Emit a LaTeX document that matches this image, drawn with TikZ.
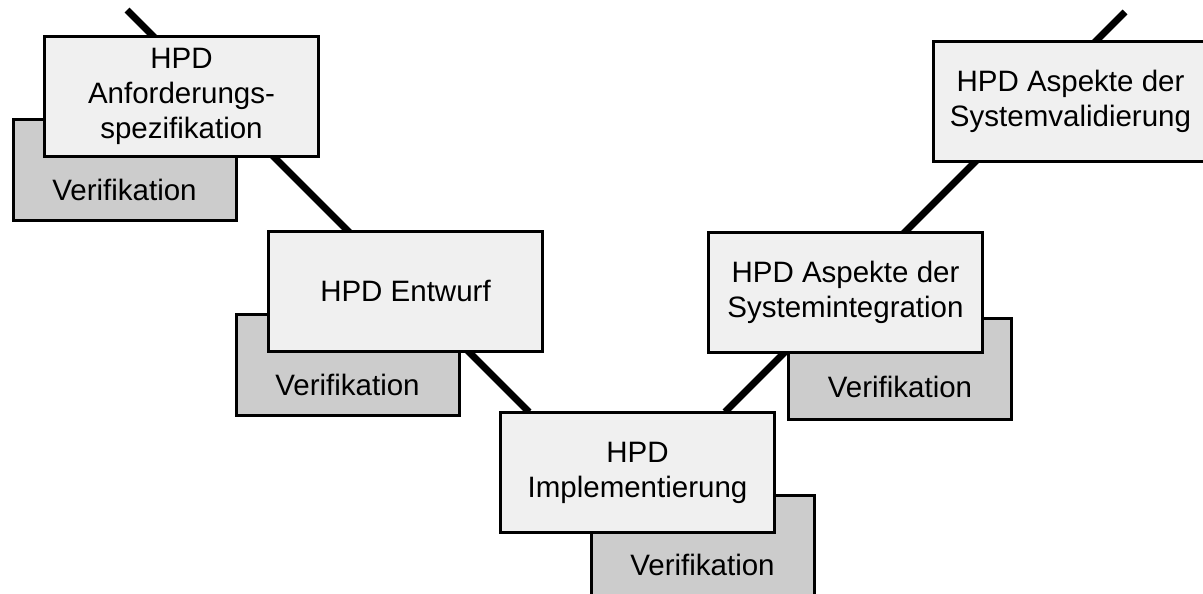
\documentclass[tikz,border=0pt]{standalone}
\usepackage{fontspec}
\setmainfont{Liberation Sans}
\definecolor{frontfill}{HTML}{F0F0F0}
\definecolor{verifill}{HTML}{CCCCCC}
\begin{document}
\begin{tikzpicture}[x=1pt,y=-1pt,
  every node/.style={font=\fontsize{29.5}{35}\selectfont},
  phase/.style={draw=black, line width=3pt, fill=frontfill, rectangle,
    minimum width=274pt, minimum height=120pt, inner sep=0pt, align=center},
  verif/.style={draw=black, line width=3pt, fill=verifill, rectangle,
    minimum width=223pt, minimum height=101pt, inner sep=0pt},
  vlabel/.style={inner sep=0pt},
  vline/.style={line width=7pt, black}]
\useasboundingbox (0,0) rectangle (1203,594);

% the two arms of the V
\coordinate (topL) at (127,10);
\coordinate (botL) at (529,412);
\coordinate (topR) at (1125,12);
\coordinate (botR) at (725,412);
\draw[vline] (topL) -- (botL);
\draw[vline] (topR) -- (botR);

% verification boxes behind the phases
\node[verif] (v1) at (124.5,170) {};
\node[verif] (v2) at (347.5,365) {};
\node[verif] (v3) at (702.5,546) {};
\node[verif] (v4) at (900,368.5) {};

% phases
\node[phase] (anf) at (181.5,96.5) {HPD\\Anforderungs-\\spezifikation};
\node[phase] (ent) at (405.5,291) {HPD Entwurf};
\node[phase] (impl) at (637.5,472.5) {HPD\\Implementierung};
\node[phase] (sysint) at (845.5,292) {HPD Aspekte der\\Systemintegration};
\node[phase] (sysval) at (1070.5,101.5) {HPD Aspekte der\\Systemvalidierung};

% verification labels in the visible part of each box
\node[vlabel] (v1t) at (124.5,190) {Verifikation};
\node[vlabel] (v2t) at (347.5,385) {Verifikation};
\node[vlabel] (v3t) at (702.5,565) {Verifikation};
\node[vlabel] (v4t) at (900,387) {Verifikation};
\end{tikzpicture}
\end{document}
